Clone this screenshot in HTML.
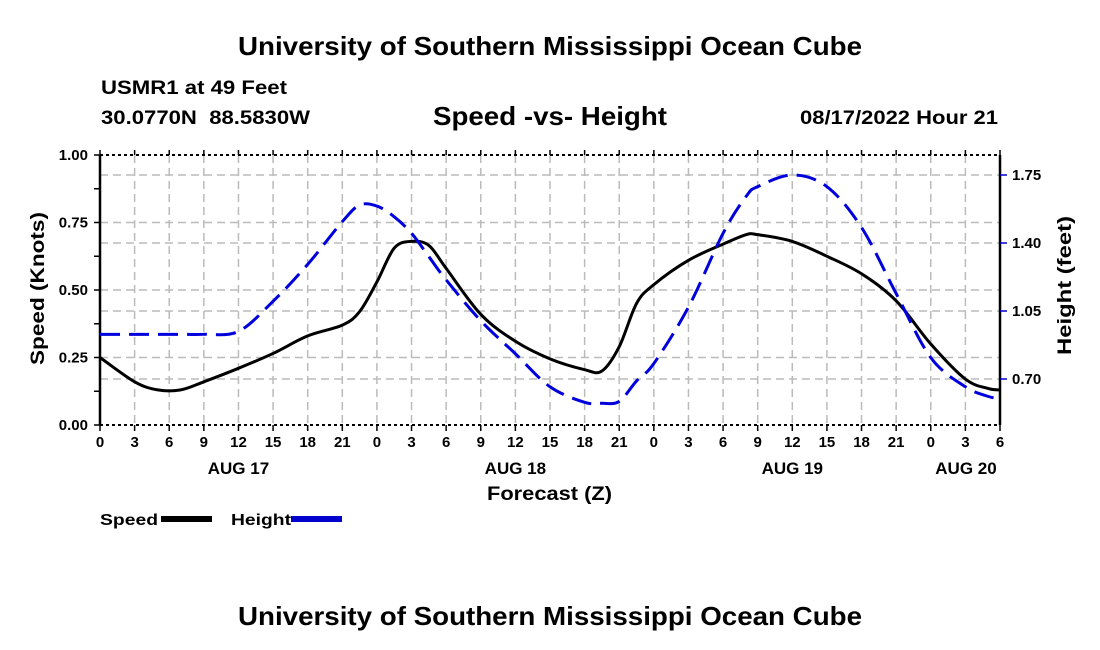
<!DOCTYPE html>
<html><head><meta charset="utf-8"><style>
body{margin:0;background:#fff;}
svg{display:block;font-family:"Liberation Sans",sans-serif;font-weight:bold;}
</style></head><body>
<svg id="chart" width="1100" height="650" viewBox="0 0 1100 650">
<text x="238" y="55" font-size="26" textLength="624" lengthAdjust="spacingAndGlyphs">University of Southern Mississippi Ocean Cube</text>
<text x="101" y="94" font-size="19" textLength="186" lengthAdjust="spacingAndGlyphs">USMR1 at 49 Feet</text>
<text x="101" y="124" font-size="19" textLength="209" lengthAdjust="spacingAndGlyphs" xml:space="preserve">30.0770N  88.5830W</text>
<text x="433" y="125" font-size="26" textLength="234" lengthAdjust="spacingAndGlyphs">Speed -vs- Height</text>
<text x="800" y="124" font-size="19" textLength="198" lengthAdjust="spacingAndGlyphs">08/17/2022 Hour 21</text>
<g id="grid"></g>
<g id="axes"></g>
<g id="series"></g>
<text x="487" y="500" font-size="19" textLength="125" lengthAdjust="spacingAndGlyphs">Forecast (Z)</text>
<text transform="translate(44,365) rotate(-90)" font-size="19" textLength="153" lengthAdjust="spacingAndGlyphs">Speed (Knots)</text>
<text transform="translate(1071,355) rotate(-90)" font-size="19" textLength="139" lengthAdjust="spacingAndGlyphs">Height (feet)</text>
<g>
<text x="100" y="525" font-size="16" textLength="58" lengthAdjust="spacingAndGlyphs">Speed</text>
<rect x="161" y="516" width="51" height="6" fill="#000"/>
<text x="231" y="525" font-size="16" textLength="60" lengthAdjust="spacingAndGlyphs">Height</text>
<rect x="291" y="516" width="51" height="6" fill="#0000cc"/>
</g>
<text x="238" y="625" font-size="26" textLength="624" lengthAdjust="spacingAndGlyphs">University of Southern Mississippi Ocean Cube</text>
</svg>
<script>
const hours=[0,3,5,7,9,12,15,18,21,22.5,24,25.5,27,28.5,30,33,36,39,42,43.5,45,46.5,48,51,54,56,57,60,63,66,69,72,75,77,78];
const speed=[0.25,0.16,0.13,0.13,0.16,0.21,0.265,0.33,0.37,0.42,0.53,0.655,0.68,0.665,0.58,0.41,0.31,0.245,0.205,0.2,0.29,0.45,0.52,0.61,0.67,0.705,0.705,0.68,0.625,0.56,0.46,0.30,0.17,0.135,0.13];
const heightFt=[0.93,0.93,0.93,0.93,0.93,0.945,1.10,1.29,1.51,1.595,1.59,1.535,1.45,1.33,1.21,1.00,0.83,0.66,0.58,0.575,0.585,0.69,0.78,1.07,1.45,1.64,1.69,1.75,1.69,1.48,1.14,0.81,0.66,0.61,0.60];
const xTickLabels=["0","3","6","9","12","15","18","21","0","3","6","9","12","15","18","21","0","3","6","9","12","15","18","21","0","3","6"];
const dayLabels=["AUG 17","AUG 18","AUG 19","AUG 20"];
const dayHours=[12,36,60,78];
const leftTicks=[0,0.25,0.5,0.75,1.0];
const rightTicks=[0.70,1.05,1.40,1.75];
const NS="http://www.w3.org/2000/svg";
const X0=100,X1=1000,Y0=425,Y1=155;
const xS=h=>X0+h*(X1-X0)/78;
const yL=v=>Y0-v*(Y0-Y1);
const yR=v=>379-(v-0.70)*(68/0.35);
function mk(tag,attrs,parent){const e=document.createElementNS(NS,tag);for(const k in attrs)e.setAttribute(k,attrs[k]);parent.appendChild(e);return e;}
const grid=document.getElementById('grid'),axes=document.getElementById('axes'),series=document.getElementById('series');
for(let i=1;i<26;i++){const l=mk('line',{x1:xS(i*3),x2:xS(i*3),y1:Y1,y2:Y0,stroke:'#bbb','stroke-width':1.5,'stroke-dasharray':'8 5'},grid);

}
leftTicks.slice(1,4).forEach(v=>{const l=mk('line',{x1:X0,x2:X1,y1:yL(v),y2:yL(v),stroke:'#bbb','stroke-width':1.5,'stroke-dasharray':'8 5'},grid);

});
rightTicks.forEach(v=>{const l=mk('line',{x1:X0,x2:X1,y1:yR(v),y2:yR(v),stroke:'#bbb','stroke-width':1.5,'stroke-dasharray':'8 5'},grid);

});
mk('line',{x1:X0,x2:X0,y1:Y1,y2:Y0,stroke:'#000','stroke-width':2.5},axes);
mk('line',{x1:X1,x2:X1,y1:Y1,y2:Y0,stroke:'#000','stroke-width':2.5},axes);
mk('line',{x1:X0,x2:X1,y1:Y1,y2:Y1,stroke:'#000','stroke-width':2,'stroke-dasharray':'3 3'},axes);
mk('line',{x1:X0,x2:X1,y1:Y0,y2:Y0,stroke:'#000','stroke-width':2,'stroke-dasharray':'3 3'},axes);
xTickLabels.forEach((t,i)=>{const x=xS(i*3);
mk('line',{x1:x,x2:x,y1:Y0,y2:Y0+6,stroke:'#000','stroke-width':1.5},axes);
mk('line',{x1:x,x2:x,y1:Y1,y2:Y1-5,stroke:'#000','stroke-width':1.5},axes);
const tx=mk('text',{x:x,y:447,'font-size':15,'text-anchor':'middle'},axes);tx.textContent=t;

});
dayLabels.forEach((d,i)=>{const tx=mk('text',{x:xS(dayHours[i])+(i==3?-34:0),y:474,'font-size':17,'text-anchor':'middle'},axes);tx.textContent=d;

});
for(let v=0;v<=1.0001;v+=0.125){mk('line',{x1:X0-6,x2:X0,y1:yL(v),y2:yL(v),stroke:'#000','stroke-width':1.5},axes);}
leftTicks.forEach(v=>{const tx=mk('text',{x:88,y:yL(v)+5,'font-size':15,'text-anchor':'end'},axes);tx.textContent=v.toFixed(2);

});
rightTicks.forEach(v=>{mk('line',{x1:X1,x2:X1+7,y1:yR(v),y2:yR(v),stroke:'#00c','stroke-width':1.5},axes);
const tx=mk('text',{x:1012,y:yR(v)+5,'font-size':15},axes);tx.textContent=v.toFixed(2);

});
function path(xs,ys){const p=xs.map((x,i)=>[x,ys[i]]);let d='M'+p[0][0]+','+p[0][1];
for(let i=0;i<p.length-1;i++){const p0=p[i-1]||p[i],p1=p[i],p2=p[i+1],p3=p[i+2]||p2;
const c1=[p1[0]+(p2[0]-p0[0])/6,p1[1]+(p2[1]-p0[1])/6],c2=[p2[0]-(p3[0]-p1[0])/6,p2[1]-(p3[1]-p1[1])/6];
d+=' C'+c1.join(',')+' '+c2.join(',')+' '+p2.join(',');}return d;}
const xs=hours.map(xS);
const sp=mk('path',{d:path(xs,speed.map(yL)),fill:'none',stroke:'#000','stroke-width':3},series);


const hp=mk('path',{d:path(xs,heightFt.map(yR)),fill:'none',stroke:'#0000dd','stroke-width':3,'stroke-dasharray':'20 9'},series);


</script>
</body></html>
